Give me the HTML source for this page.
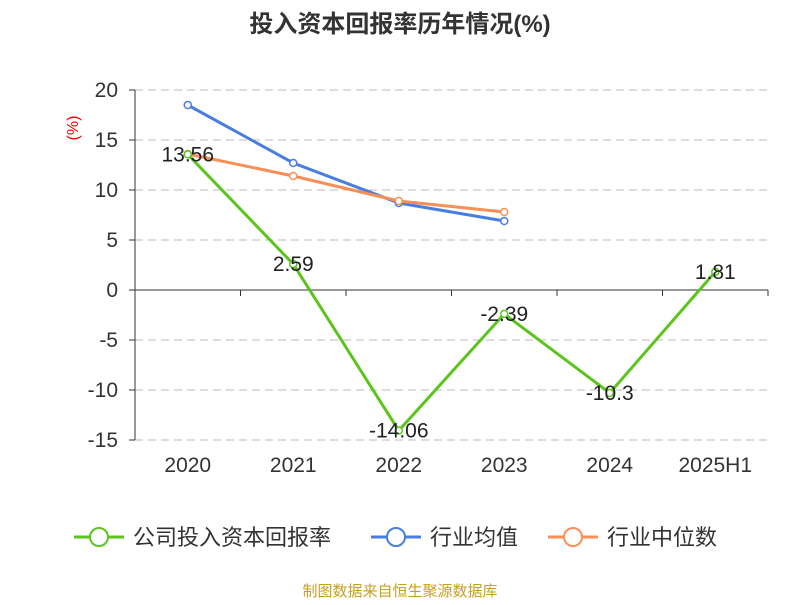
<!DOCTYPE html>
<html><head><meta charset="utf-8"><style>
body{margin:0;background:#fff;font-family:"Liberation Sans","Noto Sans CJK SC",sans-serif;}
</style></head><body>
<svg width="800" height="600" xmlns="http://www.w3.org/2000/svg" font-family="Liberation Sans, Noto Sans CJK SC, sans-serif">
<text x="400" y="32" text-anchor="middle" font-size="24" font-weight="bold" fill="#333">投入资本回报率历年情况(%)</text>
<text x="78" y="128" font-size="16" fill="#e00" transform="rotate(-90 78 128)" text-anchor="middle">(%)</text>
<g id="grid"></g><g id="axes"></g><g id="series"></g>
<g font-size="22" fill="#333">
<g><line x1="74" y1="537" x2="124" y2="537" stroke="#5cc51d" stroke-width="3"/><circle cx="99" cy="537" r="9" fill="#fff" stroke="#5cc51d" stroke-width="2"/><text x="133" y="545">公司投入资本回报率</text></g>
<g><line x1="371" y1="537" x2="421" y2="537" stroke="#4a7de0" stroke-width="3"/><circle cx="396" cy="537" r="9" fill="#fff" stroke="#4a7de0" stroke-width="2"/><text x="430" y="545">行业均值</text></g>
<g><line x1="548" y1="537" x2="598" y2="537" stroke="#f88f56" stroke-width="3"/><circle cx="573" cy="537" r="9" fill="#fff" stroke="#f88f56" stroke-width="2"/><text x="607" y="545">行业中位数</text></g>
</g>
<text x="400" y="596" text-anchor="middle" font-size="15" fill="#c8a020">制图数据来自恒生聚源数据库</text>
</svg>
<script>
const categories=["2020","2021","2022","2023","2024","2025H1"];
const company=[13.56,2.59,-14.06,-2.39,-10.3,1.81];
const industryAvg=[18.5,12.7,8.7,6.9];
const industryMedian=[13.6,11.4,8.9,7.8];
const yTicks=[20,15,10,5,0,-5,-10,-15];
const NS="http://www.w3.org/2000/svg";
const x0=135,x1=768,bw=(x1-x0)/categories.length;
const xs=i=>x0+bw*(i+0.5);
const ys=v=>290-v*10;
function mk(t,a,p){const e=document.createElementNS(NS,t);for(const k in a)e.setAttribute(k,a[k]);p.appendChild(e);return e;}
const grid=document.getElementById('grid'),axes=document.getElementById('axes'),ser=document.getElementById('series');
yTicks.forEach(v=>{
 if(v!==0){const l=mk('line',{x1:x0,x2:x1,y1:ys(v),y2:ys(v),stroke:'#bbb','stroke-dasharray':'8,5'},grid);
 
 }
 const t=mk('text',{x:x0-17,y:ys(v)+7,'text-anchor':'end','font-size':21,fill:'#333'},axes);t.textContent=v;
 
 
 mk('line',{x1:x0-6,x2:x0,y1:ys(v),y2:ys(v),stroke:'#333'},axes);
});
mk('line',{x1:x0,x2:x0,y1:ys(20),y2:ys(-15),stroke:'#333'},axes);
mk('line',{x1:x0,x2:x1,y1:ys(0),y2:ys(0),stroke:'#333'},axes);
for(let i=0;i<=categories.length;i++)mk('line',{x1:x0+bw*i,x2:x0+bw*i,y1:ys(0),y2:ys(0)+6,stroke:'#333'},axes);
categories.forEach((c,i)=>{const t=mk('text',{x:xs(i),y:472,'text-anchor':'middle','font-size':21,fill:'#333'},axes);t.textContent=c;
 
 });
function line(data,color,name,labels){
 const g=mk('g',{},ser);
 
 
 mk('polyline',{points:data.map((v,i)=>xs(i)+','+ys(v)).join(' '),fill:'none',stroke:color,'stroke-width':3},g);
 data.forEach((v,i)=>{const c=mk('circle',{cx:xs(i),cy:ys(v),r:3.5,fill:'#fff',stroke:color,'stroke-width':1.5},g);
  
  
  if(labels){const t=mk('text',{x:xs(i),y:ys(v)+7,'text-anchor':'middle','font-size':21,fill:'#222'},g);t.textContent=v;
  
  }});
}
line(industryAvg,'#4a7de0','series-industry-avg',false);
line(industryMedian,'#f88f56','series-industry-median',false);
line(company,'#5cc51d','series-company',true);
</script>
</body></html>
